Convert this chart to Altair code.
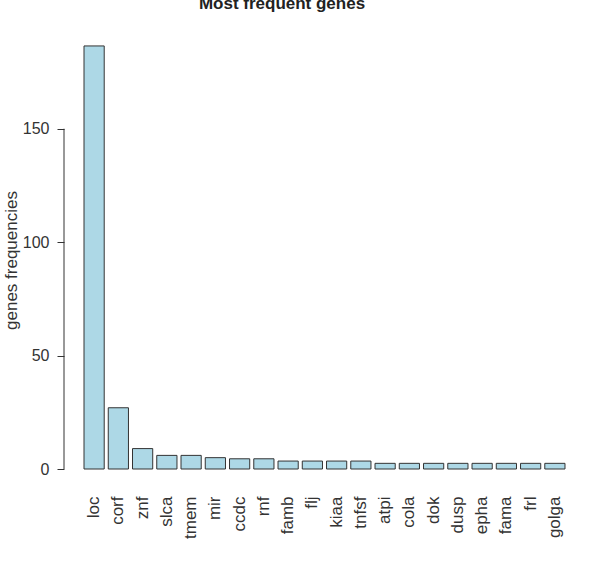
import altair as alt
import pandas as pd

genes = ["loc", "corf", "znf", "slca", "tmem", "mir", "ccdc", "rnf", "famb", "flj",
         "kiaa", "tnfsf", "atpi", "cola", "dok", "dusp", "epha", "fama", "frl", "golga"]
freqs = [186.5, 27, 9, 6, 6, 5, 4.5, 4.5, 3.5, 3.5,
         3.5, 3.5, 2.5, 2.5, 2.5, 2.5, 2.5, 2.5, 2.5, 2.5]
y_ticks = [0, 50, 100, 150]
title_text = "Most frequent genes"
y_title = "genes frequencies"

df = pd.DataFrame({"gene": genes, "freq": freqs})
FONT = "Liberation Sans"

y_axis = alt.Axis(title=y_title, values=y_ticks, domain=False, grid=False,
                  tickSize=7, tickColor="#333333", labelPadding=8, labelFontSize=16,
                  labelColor="#333333", labelFont=FONT,
                  titleFont=FONT, titleFontSize=17, titleFontWeight="normal",
                  titleColor="#333333", titleAngle=270, titleX=-53, titleY=222,
                  titleAlign="center", titleBaseline="middle")
y_scale = alt.Scale(domain=[0, 190], nice=False, zero=True)

bars = alt.Chart(df).mark_bar(fill="#add8e6", stroke="#333333", strokeWidth=1).encode(
    x=alt.X("gene:N", sort=None,
            scale=alt.Scale(paddingInner=0.1667, paddingOuter=0.825),
            axis=alt.Axis(title=None, labelAngle=270, labelAlign="right", labelBaseline="middle",
                          labelPadding=27, domain=False, ticks=False, labelFontSize=17,
                          labelColor="#333333", labelFont=FONT)),
    y=alt.Y("freq:Q", scale=y_scale, axis=y_axis),
)

axis_line = alt.Chart(pd.DataFrame({"y0": [y_ticks[0]], "y1": [y_ticks[-1]]})).mark_rule(
    color="#333333", strokeWidth=1).encode(
    x=alt.value(0),
    y=alt.Y("y0:Q", scale=y_scale, axis=y_axis),
    y2="y1:Q",
)

title = alt.Chart(pd.DataFrame({"t": [title_text]})).mark_text(
    font=FONT, fontSize=17, fontWeight="bold", color="#222222",
    align="center", baseline="alphabetic").encode(
    text="t:N", x=alt.value(218), y=alt.value(-29))

chart = alt.layer(bars, axis_line, title).properties(
    width=521, height=431,
    background="white",
    autosize=alt.AutoSizeParams(type="none"),
    padding={"left": 64, "top": 38, "right": 29, "bottom": 119},
).configure_view(stroke="transparent", strokeWidth=0)

chart.save("out.html", embed_options={"renderer": "svg", "actions": False})
